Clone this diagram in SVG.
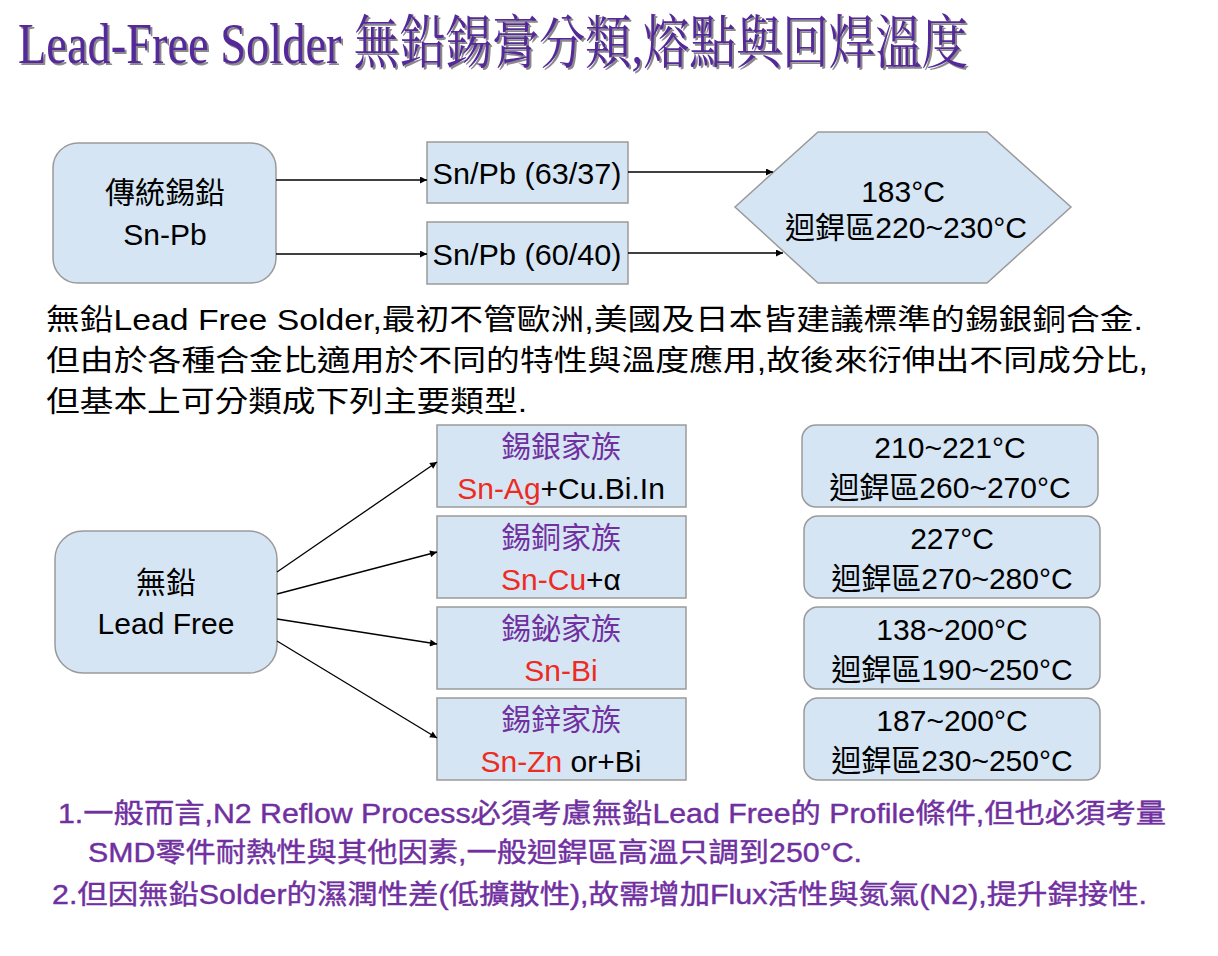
<svg xmlns="http://www.w3.org/2000/svg" width="1218" height="956" viewBox="0 0 1218 956">
<defs>
<marker id="ah" viewBox="0 0 10 10" refX="10" refY="5" markerWidth="8" markerHeight="7" markerUnits="userSpaceOnUse" orient="auto">
<path d="M0,0 L10,5 L0,10 z" fill="#000"/>
</marker>
</defs>
<style>
.box{fill:#d5e5f3;stroke:#9a9a9a;stroke-width:1.5}
.t{font-family:"Liberation Sans","Noto Sans CJK TC",sans-serif;font-size:30px;fill:#000;text-anchor:middle}
.p{font-family:"Liberation Sans","Noto Sans CJK TC",sans-serif;font-size:29px;fill:#000}
.n{font-family:"Liberation Sans","Noto Sans CJK TC",sans-serif;font-size:27px;fill:#7030a0;stroke:#7030a0;stroke-width:0.4}
.fam{fill:#7030a0}
.red{fill:#ee2b1f}
.conn line{stroke:#000;stroke-width:1.3;marker-end:url(#ah)}
.title{font-family:"Liberation Serif","Noto Serif CJK TC","Noto Sans CJK TC",serif;font-size:58px}
</style>
<rect width="1218" height="956" fill="#fff"/>
<g id="title">
<text class="title" x="20" y="65" fill="#8a8a8a" textLength="950" lengthAdjust="spacingAndGlyphs">Lead-Free Solder 無鉛錫膏分類,熔點與回焊溫度</text>
<text class="title" x="18" y="63" fill="#55299a" textLength="950" lengthAdjust="spacingAndGlyphs">Lead-Free Solder 無鉛錫膏分類,熔點與回焊溫度</text>
</g>
<g id="snpb">
<rect class="box" x="53" y="143" width="223" height="140" rx="25"/>
<text class="t" x="165" y="203">傳統錫鉛</text>
<text class="t" x="165" y="245">Sn-Pb</text>
</g>
<g id="snpb6337">
<rect class="box" x="427" y="142" width="201" height="61"/>
<text class="t" x="527" y="184" textLength="189" lengthAdjust="spacingAndGlyphs">Sn/Pb (63/37)</text>
</g>
<g id="snpb6040">
<rect class="box" x="427" y="222" width="201" height="62"/>
<text class="t" x="527" y="265" textLength="189" lengthAdjust="spacingAndGlyphs">Sn/Pb (60/40)</text>
</g>
<g id="temp-snpb">
<polygon class="box" points="735,207 818,132 987,132 1071,207 987,283 818,283"/>
<text class="t" x="903" y="202">183°C</text>
<text class="t" x="906" y="238" textLength="242" lengthAdjust="spacingAndGlyphs">迴銲區220~230°C</text>
</g>
<g id="paragraph">
<text class="p" x="46" y="330" textLength="1097" lengthAdjust="spacingAndGlyphs">無鉛Lead Free Solder,最初不管歐洲,美國及日本皆建議標準的錫銀銅合金.</text>
<text class="p" x="46" y="371" textLength="1102" lengthAdjust="spacingAndGlyphs">但由於各種合金比適用於不同的特性與溫度應用,故後來衍伸出不同成分比,</text>
<text class="p" x="46" y="412" textLength="481" lengthAdjust="spacingAndGlyphs">但基本上可分類成下列主要類型.</text>
</g>
<g id="leadfree">
<rect class="box" x="55" y="531" width="222" height="142" rx="28"/>
<text class="t" x="166" y="593">無鉛</text>
<text class="t" x="166" y="634">Lead Free</text>
</g>
<g id="fam-snag">
<rect class="box" x="437" y="425" width="249" height="82"/>
<text class="t fam" x="561" y="457">錫銀家族</text>
<text class="t" x="561" y="499"><tspan class="red">Sn-Ag</tspan>+Cu.Bi.In</text>
</g>
<g id="fam-sncu">
<rect class="box" x="437" y="516" width="249" height="82"/>
<text class="t fam" x="561" y="548">錫銅家族</text>
<text class="t" x="561" y="590"><tspan class="red">Sn-Cu</tspan>+α</text>
</g>
<g id="fam-snbi">
<rect class="box" x="437" y="607" width="249" height="82"/>
<text class="t fam" x="561" y="639">錫鉍家族</text>
<text class="t red" x="561" y="681">Sn-Bi</text>
</g>
<g id="fam-snzn">
<rect class="box" x="437" y="698" width="249" height="82"/>
<text class="t fam" x="561" y="730">錫鋅家族</text>
<text class="t" x="561" y="772"><tspan class="red">Sn-Zn</tspan> or+Bi</text>
</g>
<g id="temp-snag">
<rect class="box" x="802" y="425" width="296" height="82" rx="14"/>
<text class="t" x="950" y="458">210~221°C</text>
<text class="t" x="950" y="498">迴銲區260~270°C</text>
</g>
<g id="temp-sncu">
<rect class="box" x="804" y="516" width="296" height="82" rx="14"/>
<text class="t" x="952" y="549">227°C</text>
<text class="t" x="952" y="589">迴銲區270~280°C</text>
</g>
<g id="temp-snbi">
<rect class="box" x="804" y="607" width="296" height="82" rx="14"/>
<text class="t" x="952" y="640">138~200°C</text>
<text class="t" x="952" y="680">迴銲區190~250°C</text>
</g>
<g id="temp-snzn">
<rect class="box" x="804" y="698" width="296" height="82" rx="14"/>
<text class="t" x="952" y="731">187~200°C</text>
<text class="t" x="952" y="771">迴銲區230~250°C</text>
</g>
<g id="notes">
<text class="n" x="58" y="823" textLength="1108" lengthAdjust="spacingAndGlyphs">1.一般而言,N2 Reflow Process必須考慮無鉛Lead Free的 Profile條件,但也必須考量</text>
<text class="n" x="88" y="862" textLength="774" lengthAdjust="spacingAndGlyphs">SMD零件耐熱性與其他因素,一般迴銲區高溫只調到250°C.</text>
<text class="n" x="52" y="904" textLength="1095" lengthAdjust="spacingAndGlyphs">2.但因無鉛Solder的濕潤性差(低擴散性),故需增加Flux活性與氮氣(N2),提升銲接性.</text>
</g>
<g id="connectors" class="conn">
<line x1="276" y1="180" x2="427" y2="180"/>
<line x1="276" y1="254" x2="427" y2="254"/>
<line x1="628" y1="172" x2="773" y2="172"/>
<line x1="628" y1="253" x2="783" y2="253"/>
<line x1="277" y1="572" x2="437" y2="462"/>
<line x1="277" y1="594" x2="437" y2="552"/>
<line x1="277" y1="619" x2="437" y2="644"/>
<line x1="277" y1="641" x2="437" y2="738"/>
</g>
</svg>
